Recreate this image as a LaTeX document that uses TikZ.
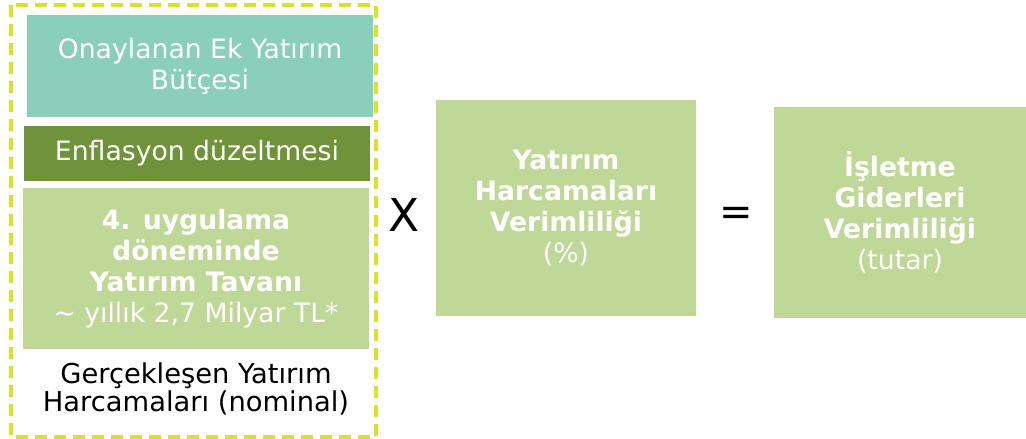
\documentclass[tikz,border=0pt]{standalone}
\usepackage{fontspec}
\setmainfont{DejaVu Sans}

\definecolor{tealc}{RGB}{138,207,185}
\definecolor{darkg}{RGB}{112,146,58}
\definecolor{lightg}{RGB}{192,216,151}
\definecolor{dashc}{RGB}{218,226,40}

\def\px{0.75pt}
% outer dashed frame
\def\xos{11}
\def\xoe{376}
\def\yos{5}
\def\yoe{437}

\tikzset{
  box/.style={inner sep=0pt, align=center, text=white,
    font=\fontsize{20}{23.25}\selectfont},
  sign/.style={inner sep=0pt, text=black}
}

\begin{document}
\begin{tikzpicture}[x=\px,y=-\px]
        \useasboundingbox (0,0) rectangle (1026,439);
        \draw [draw=dashc, line width=3.5*\px, dash pattern=on 12*\px off 7*\px] (\xos,\yos) rectangle (\xoe,\yoe);
        \node[box, fill=tealc, minimum width=346*\px, minimum height=102*\px] (butce) at (200,66) {Onaylanan Ek Yatırım\\Bütçesi};
        \node[box, fill=darkg, minimum width=346*\px, minimum height=55*\px] (enflasyon) at (197,153.5) {Enflasyon düzeltmesi};
        \node[box, fill=lightg, minimum width=346*\px, minimum height=161*\px] (tavan) at (196,268.5) {\textbf{4. uygulama}\\\textbf{döneminde}\\\textbf{Yatırım Tavanı}\\\textasciitilde{} yıllık 2,7 Milyar TL*};
        \node[box, text=black, font=\fontsize{20.5}{21}\selectfont] (nominal) at (196,389) {Gerçekleşen Yatırım\\Harcamaları (nominal)};
        \node[sign, font=\fontsize{34}{34}\selectfont] (carpi) at (404,215) {X};
        \node[box, fill=lightg, minimum width=260*\px, minimum height=216*\px] (verim) at (566,208) {\textbf{Yatırım}\\\textbf{Harcamaları}\\\textbf{Verimliliği}\\(\%)};
        \node[sign, font=\fontsize{30}{30}\selectfont] (esit) at (736,216) {=};
        \node[box, fill=lightg, minimum width=252*\px, minimum height=211*\px] (gider) at (900,212.5) {\textbf{İşletme}\\\textbf{Giderleri}\\\textbf{Verimliliği}\\(tutar)};
    \end{tikzpicture}
\end{document}
